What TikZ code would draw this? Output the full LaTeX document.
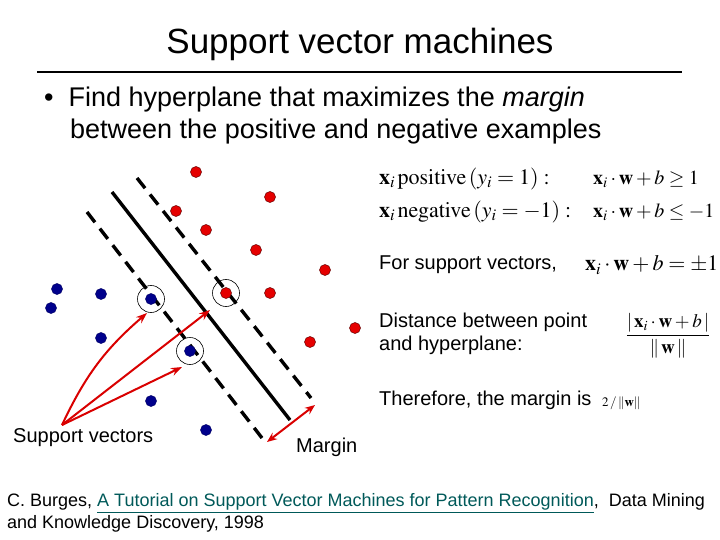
\documentclass[tikz,border=0pt]{standalone}
\usepackage{amsmath}
\usepackage{mathptmx}
\usepackage[no-math]{fontspec}
\setmainfont{Liberation Sans}
\usetikzlibrary{arrows.meta}
\begin{document}
\begin{tikzpicture}[x=1pt,y=-1pt,
 rpt/.style={circle,fill=red!90!black,draw=black!60!red,line width=0.5pt,inner sep=0,minimum size=11pt},
 bpt/.style={circle,fill=blue!55!black,draw=black!60!blue,line width=0.5pt,inner sep=0,minimum size=11pt},
 sv/.style={circle,draw=black,line width=0.6pt,minimum size=27pt,inner sep=0},
 dsh/.style={line width=3.4pt,dash pattern=on 13pt off 8pt},
 arr/.style={red!85!black,line width=2pt,-{Stealth[length=11pt,width=8pt]}},
 txt/.style={anchor=west,inner sep=0,font=\fontsize{20}{23}\selectfont},
 mth/.style={anchor=west,inner sep=0,font=\fontsize{20}{24}\selectfont},
 mthl/.style={anchor=west,inner sep=0,font=\fontsize{22}{24}\selectfont}]
\useasboundingbox (0,0) rectangle (720,540);
\node[font=\fontsize{35}{40}\selectfont] (title) at (360,44) {Support vector machines};
\draw[line width=2.4pt] (37,72) -- (682,72);
\node[anchor=west,inner sep=0,font=\fontsize{27}{32}\selectfont,align=left] (bul) at (44,116) {\textbullet\ \ Find hyperplane that maximizes the \textit{margin}\\\hspace{26pt}between the positive and negative examples};
% lines
\coordinate (s1) at (112,192); \coordinate (s2) at (290,420);
\coordinate (u1) at (137,178); \coordinate (u2) at (311,398);
\coordinate (l1) at (87,212); \coordinate (l2) at (262,438);
\draw[line width=3.4pt] (s1) -- (s2);
\draw[dsh] (u1) -- (u2);
\draw[dsh] (l1) -- (l2);
% points
\foreach \p [count=\i] in {(196,172),(270,197),(176,211),(206,230),(256,250),(325,270),(226,293),(270,293),(355,328),(310,342)}
  \node[rpt] (r\i) at \p {};
\foreach \p [count=\i] in {(57,289),(51,308),(101,294),(151,299),(101,338),(190,351),(151,401),(206,430)}
  \node[bpt] (b\i) at \p {};
\node[sv] (c1) at (r7) {};
\node[sv] (c2) at (b4) {};
\node[sv] (c3) at (b6) {};
\node[txt] (svl) at (13,438) {Support vectors};
\coordinate (src) at (62,425);
\draw[arr] (src) to[bend left=12] (147,313);
\draw[arr] (src) -- (210,310);
\draw[arr] (src) -- (182,367);
\coordinate (m1) at (267,442); \coordinate (m2) at (315,405);
\draw[red!85!black,line width=2pt,{Stealth[length=10pt,width=8pt]}-{Stealth[length=10pt,width=8pt]}] (m1) -- (m2);
\node[txt] (mar) at (296,447) {Margin};
% right formulas
\node[mthl] (f1) at (379,179) {$\mathbf{x}_i\,\mathrm{positive}\,(y_i=1):$};
\node[mth] (f2) at (593,179) {$\mathbf{x}_i\cdot\mathbf{w}+b\geq 1$};
\node[mthl] (f3) at (379,212) {$\mathbf{x}_i\,\mathrm{negative}\,(y_i=-1):$};
\node[mth] (f4) at (593,212) {$\mathbf{x}_i\cdot\mathbf{w}+b\leq -1$};
\node[txt] (t1) at (379,265) {For support vectors,};
\node[mthl] (f5) at (585,265) {$\mathbf{x}_i\cdot\mathbf{w}+b=\pm 1$};
\node[txt,align=left] (t2) at (379,334) {Distance between point\\and hyperplane:};
\node[anchor=center,inner sep=0,font=\fontsize{19}{22}\selectfont] (f6) at (668,336) {$\dfrac{|\,\mathbf{x}_i\cdot\mathbf{w}+b\,|}{\|\,\mathbf{w}\,\|}$};
\node[txt] (t3) at (379,400) {Therefore, the margin is};
\node[anchor=west,inner sep=0,font=\fontsize{13}{15}\selectfont] (f7) at (602,403) {$2\,/\,\|\mathbf{w}\|$};
\node[anchor=north west,inner sep=0,align=left,font=\fontsize{18}{22}\selectfont] (cite) at (7,493) {C. Burges, \textcolor{teal!70!black}{\underline{A Tutorial on Support Vector Machines for Pattern Recognition}},\ \ Data Mining\\and Knowledge Discovery, 1998};
\end{tikzpicture}
\end{document}
